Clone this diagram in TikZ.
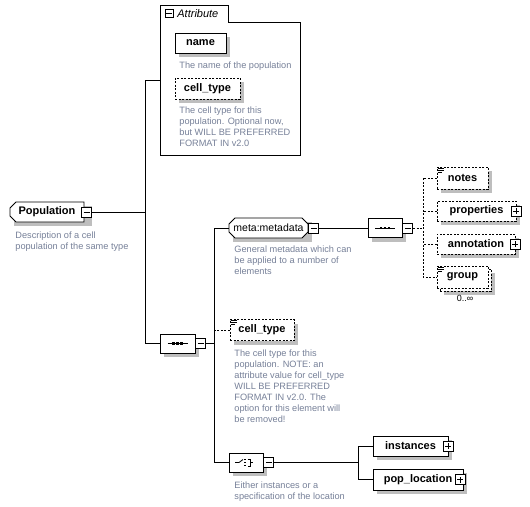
\documentclass[tikz,border=0pt]{standalone}
\usepackage{fontspec}
\setmainfont{Liberation Sans}
\usetikzlibrary{shapes.misc,positioning}
\definecolor{doctext}{RGB}{118,128,152}
\definecolor{boxshadow}{RGB}{190,190,190}
\tikzset{
  box/.style={draw, fill=white, inner sep=0pt, font=\fontsize{11}{12}\selectfont\bfseries},
  optional/.style={dash pattern=on 2pt off 1.5pt},
  compositor/.style={box, chamfered rectangle, chamfered rectangle xsep=5pt,
    chamfered rectangle ysep=5pt, minimum height=19},
  desc/.style={anchor=north west, inner sep=0pt, align=left, text=doctext,
    font=\fontsize{9.2}{11}\selectfont},
  minusbox/.style={draw, fill=white, minimum size=10, inner sep=0pt,
    path picture={\draw ([xshift=-3pt]path picture bounding box.center) -- ([xshift=3pt]path picture bounding box.center);}},
  plusbox/.style={draw, fill=white, minimum size=10, inner sep=0pt,
    path picture={\draw ([xshift=-3pt]path picture bounding box.center) -- ([xshift=3pt]path picture bounding box.center)
      ([yshift=-3pt]path picture bounding box.center) -- ([yshift=3pt]path picture bounding box.center);}}
}
\begin{document}
\begin{tikzpicture}[x=1pt,y=-1pt,line width=0.8pt]
\useasboundingbox (0,0) rectangle (530,506);
% Shadows, drawn first so that the boxes sit on them
\fill[boxshadow] (179,37) rectangle (230,57);
\fill[boxshadow] (179,82) rectangle (244,103);
\fill[boxshadow] (14,206) rectangle (92,226);
\fill[boxshadow] (164,338) rectangle (199,357);
\fill[boxshadow] (233,222) rectangle (312,242);
\fill[boxshadow] (234,323.5) rectangle (298,344.5);
\fill[boxshadow] (233,457) rectangle (267,476);
\fill[boxshadow] (372,222.5) rectangle (406,241.5);
\fill[boxshadow] (441,171) rectangle (492,193);
\fill[boxshadow] (441,205) rectangle (520,225);
\fill[boxshadow] (441,238) rectangle (519,258);
\fill[boxshadow] (444,273) rectangle (495,295);
\fill[boxshadow] (377,440) rectangle (452,460);
\fill[boxshadow] (377,473) rectangle (467,494);

% Attribute frame with its tab
\draw (160,5) -- (228,5) -- (228,22) -- (300,22) -- (300,155) -- (160,155) -- cycle;
\node[minusbox, minimum size=8] (attrm) at (169,13.5) {};
\node[anchor=west, inner sep=0pt, font=\fontsize{11}{12}\selectfont\itshape] (attrlabel) at (177,13.5) {Attribute};
\coordinate (attrin) at (160,80);
\node[box, minimum width=51, minimum height=20] (name) at (200.5,43) {name};
\node[desc] (namedoc) at (179,61) {The name of the population};
\node[box, optional, minimum width=65, minimum height=21] (attrct) at (207.5,88.5) {cell\_type};
\node[desc] (attrctdoc) at (179,106) {The cell type for this\\population. Optional now,\\but WILL BE PREFERRED\\FORMAT IN v2.0};

% Root element
\node[box, chamfered rectangle, chamfered rectangle corners={north west,south west},
  chamfered rectangle xsep=3pt, chamfered rectangle ysep=3pt, minimum width=74, minimum height=20] (pop) at (47,212) {Population};
\node[minusbox] (popm) at (86.5,212) {};
\node[desc] (popdoc) at (15,231) {Description of a cell\\population of the same type};

% Main sequence
\node[compositor, minimum width=35] (seq1) at (177.5,343.5) {};
\node[minusbox, anchor=west] (seq1m) at (seq1.east) {};
\node[box, chamfered rectangle, chamfered rectangle xsep=3pt, chamfered rectangle ysep=3pt,
  font=\fontsize{10.5}{12}\selectfont, minimum width=79, minimum height=20] (meta) at (268.5,228) {meta:metadata};
\node[minusbox, anchor=west] (metam) at (meta.east) {};
\node[desc] (metadoc) at (234,245) {General metadata which can\\be applied to a number of\\elements};
\node[box, optional, minimum width=64, minimum height=21] (ctel) at (262,330) {cell\_type};
\node[desc] (cteldoc) at (234,349) {The cell type for this\\population. NOTE: an\\attribute value for cell\_type\\WILL BE PREFERRED\\FORMAT IN v2.0. The\\option for this element will\\be removed!};
\node[compositor, minimum width=34] (choice) at (246,462.5) {};
\node[minusbox, anchor=west] (choicem) at (choice.east) {};
\node[desc] (choicedoc) at (234,481) {Either instances or a\\specification of the location};

% Metadata sequence
\node[compositor, minimum width=34] (seq2) at (385,228) {};
\node[minusbox, anchor=west] (seq2m) at (seq2.east) {};
\node[box, optional, minimum width=51, minimum height=22] (notes) at (462.5,178) {notes};
\node[box, optional, minimum width=79, minimum height=20] (props) at (476.5,211) {properties\hspace{6pt}};
\node[plusbox] (propsp) at (props.east) {};
\node[box, optional, minimum width=78, minimum height=20] (annot) at (476,244) {annotation\hspace{6pt}};
\node[plusbox] (annotp) at (annot.east) {};
\node[box, optional, minimum width=51, minimum height=22] (groupbk) at (465.5,280) {};
\node[box, optional, minimum width=51, minimum height=22] (group) at (462.5,277) {group};
\node[inner sep=0pt, font=\fontsize{9}{10}\selectfont] (groupocc) at (465,298) {0..∞};

% Choice children
\node[box, minimum width=75, minimum height=20] (inst) at (410.5,446) {instances\hspace{4pt}};
\node[plusbox] (instp) at (inst.east) {};
\node[box, minimum width=90, minimum height=21] (poploc) at (418,479.5) {pop\_location\hspace{6pt}};
\node[plusbox] (poplocp) at ([xshift=-3pt]poploc.east) {};

% Compositor icons
\foreach \s in {seq1,seq2}
{
  \draw ([xshift=-10pt]\s.center) -- ([xshift=10pt]\s.center);
  \foreach \dx in {-4,0,4}
    \fill ([xshift=\dx pt]\s.center) +(-1.2,-1.3) rectangle +(1.2,1.3);
}
\draw ([shift={(-11,0)}]choice.center) -- ++(4,0) -- ++(4,-3);
\foreach \dy in {-3,0,3}
  \fill ([shift={(-1,\dy)}]choice.center) +(-1.2,-0.9) rectangle +(1.2,0.9);
\draw ([shift={(1.5,-3.5)}]choice.center) -- ++(2.5,0) -- ++(0,7) -- ++(-2.5,0);
\draw ([shift={(4,0)}]choice.center) -- ++(3,0);

% Text content icons
\foreach \n in {ctel,notes,group}
{
  \draw[line width=0.7pt] ([shift={(1,1.5)}]\n.north west) -- ++(6,0);
  \draw[line width=0.7pt] ([shift={(1,3.5)}]\n.north west) -- ++(6,0);
  \draw[line width=0.7pt] ([shift={(1,5.5)}]\n.north west) -- ++(4,0);
}

% Connectors
\coordinate (bus1) at (145,343.5);
\coordinate (bus2) at (214,462.5);
\coordinate (bus3) at (423,277);
\coordinate (bus4) at (358,479.5);
\draw (popm.east) -- (popm.east -| bus1);
\draw (attrin) -| (bus1) -- (seq1.west);
\draw (seq1m.east) -- (seq1m.east -| bus2);
\draw (meta.west) -| (bus2) -- (choice.west);
\draw[optional] (ctel.west) -- (ctel.west -| bus2);
\draw (metam.east) -- (seq2.west);
\draw[optional] (seq2m.east) -- (seq2m.east -| bus3);
\draw[optional] (notes.west) -| (bus3) -- (group.west);
\draw[optional] (props.west) -- (props.west -| bus3);
\draw[optional] (annot.west) -- (annot.west -| bus3);
\draw (choicem.east) -- (choicem.east -| bus4);
\draw (inst.west) -| (bus4) -- (poploc.west);
\end{tikzpicture}
\end{document}
